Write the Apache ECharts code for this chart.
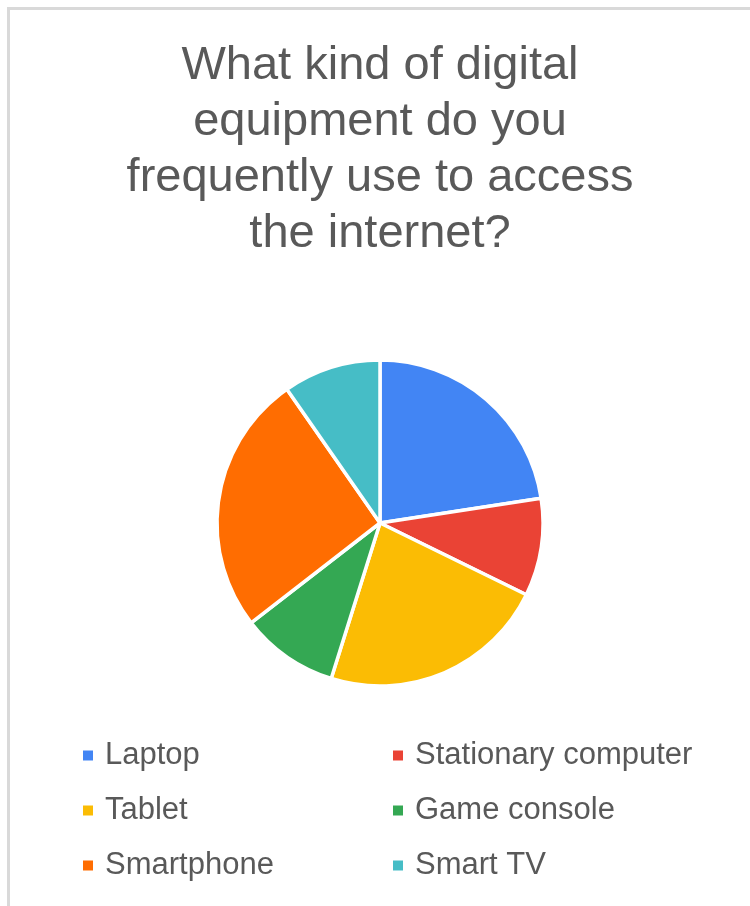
<!DOCTYPE html>
<html>
<head>
<meta charset="utf-8">
<script src="https://cdn.jsdelivr.net/npm/echarts@6/dist/echarts.min.js"></script>
<style>
  html, body { margin: 0; padding: 0; background: #ffffff; overflow: hidden; }
  #chart { width: 750px; height: 906px; }
</style>
</head>
<body>
<div id="chart"></div>
<script>
// Survey answers: devices used to go online
const titleText = 'What kind of digital\nequipment do you\nfrequently use to access\nthe internet?';
const categories = ['Laptop', 'Stationary computer', 'Tablet', 'Game console', 'Smartphone', 'Smart TV'];
const responses = [7, 3, 7, 3, 8, 3];
const sliceColors = ['#4285F4', '#EA4335', '#FBBC04', '#34A853', '#FF6D01', '#46BDC6'];

// Legend is laid out in two columns
const legendLeftColumn = ['Laptop', 'Tablet', 'Smartphone'];
const legendRightColumn = ['Stationary computer', 'Game console', 'Smart TV'];

const FONT = '"Liberation Sans", Arial, Helvetica, sans-serif';
const TEXT_COLOR = '#595959';

const chart = echarts.init(document.getElementById('chart'), null, { renderer: 'canvas' });

const legendBase = {
  orient: 'vertical',
  top: 740,
  padding: 0,
  icon: 'rect',
  itemWidth: 10,
  itemHeight: 10,
  itemGap: 24,
  selectedMode: false,
  // plain swatches, without the white slice outline
  itemStyle: { borderWidth: 0 },
  textStyle: {
    fontFamily: FONT,
    fontSize: 31,
    lineHeight: 31,
    color: TEXT_COLOR,
    padding: [0, 0, 0, 7]
  }
};

// Frame edges along the top and left of the chart area
const frameStyle = { stroke: '#d9d9d9', lineWidth: 3 };

chart.setOption({
  animation: false,
  backgroundColor: '#ffffff',
  color: sliceColors,
  graphic: [
    { type: 'line', shape: { x1: 7, y1: 8.5, x2: 750, y2: 8.5 }, style: frameStyle, silent: true },
    { type: 'line', shape: { x1: 8.5, y1: 7, x2: 8.5, y2: 906 }, style: frameStyle, silent: true }
  ],
  title: {
    text: titleText,
    left: 380,
    top: 38,
    padding: 0,
    textAlign: 'center',
    textStyle: {
      fontFamily: FONT,
      fontSize: 47,
      fontWeight: 'normal',
      lineHeight: 56,
      color: TEXT_COLOR
    }
  },
  legend: [
    Object.assign({}, legendBase, { left: 83, data: legendLeftColumn }),
    Object.assign({}, legendBase, { left: 393, data: legendRightColumn })
  ],
  series: [{
    type: 'pie',
    center: [380, 523],
    radius: 163,
    startAngle: 90,
    clockwise: true,
    label: { show: false },
    labelLine: { show: false },
    emphasis: { disabled: true },
    itemStyle: { borderColor: '#ffffff', borderWidth: 3.5 },
    data: categories.map((name, i) => ({ name: name, value: responses[i] }))
  }]
});
</script>
</body>
</html>
